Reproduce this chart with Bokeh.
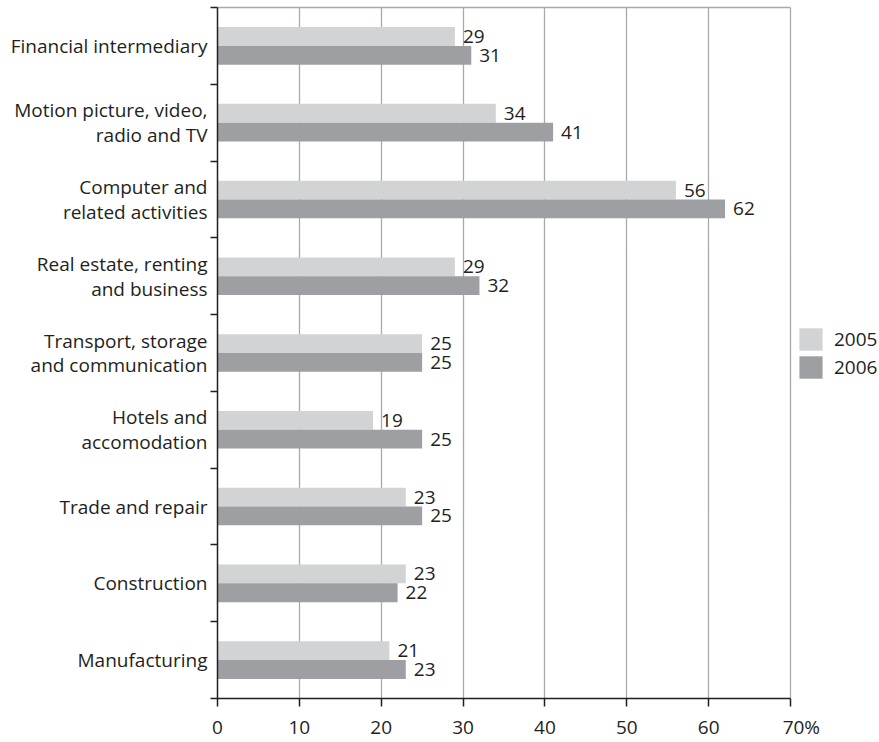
from bokeh.plotting import figure
from bokeh.models import (ColumnDataSource, FixedTicker, Legend, LegendItem,
                          LinearAxis, Range1d)
from bokeh.core.properties import value
from bokeh.embed import file_html
from bokeh.resources import INLINE

# Sectors, listed top to bottom
sectors = [
    "Financial intermediary",
    "Motion picture, video,\nradio and TV",
    "Computer and\nrelated activities",
    "Real estate, renting\nand business",
    "Transport, storage\nand communication",
    "Hotels and\naccomodation",
    "Trade and repair",
    "Construction",
    "Manufacturing",
]
share_2005 = [29, 34, 56, 29, 25, 19, 23, 23, 21]
share_2006 = [31, 41, 62, 32, 25, 25, 25, 22, 23]
years = ["2005", "2006"]
x_ticks = [0, 10, 20, 30, 40, 50, 60, 70]

FONT = "Open Sans"
FS = "19px"
TEXT = "#231f20"
LIGHT = "#d1d3d4"
DARK = "#9d9fa2"
GRID = "#a7a9ac"

n = len(sectors)
x_max = x_ticks[-1]
centers = [n - i - 0.5 for i in range(n)]
bar_h = 0.245
src05 = ColumnDataSource(dict(y=[c + bar_h / 2 for c in centers], v=share_2005,
                              t=[str(v) for v in share_2005]))
src06 = ColumnDataSource(dict(y=[c - bar_h / 2 for c in centers], v=share_2006,
                              t=[str(v) for v in share_2006]))

# The frame runs to the right edge so the legend can sit beside the bars;
# axis and grid bounds keep the drawn chart area at 0-70.
px_per_unit = 573 / x_max
p = figure(width=879, height=742,
           x_range=Range1d(0, (879 - 217) / px_per_unit),
           y_range=Range1d(0, n),
           output_backend="svg", toolbar_location=None,
           min_border_left=217, min_border_right=0,
           min_border_top=7, min_border_bottom=38)
p.background_fill_color = "white"
p.border_fill_color = "white"
p.outline_line_color = None

r05 = p.hbar(y="y", right="v", left=0, height=bar_h, source=src05,
             fill_color=LIGHT, line_color=None)
r06 = p.hbar(y="y", right="v", left=0, height=bar_h, source=src06,
             fill_color=DARK, line_color=None)

for src in (src05, src06):
    p.text(x="v", y="y", text="t", source=src, x_offset=8,
           text_baseline="middle", text_align="left",
           text_font=value(FONT), text_font_size=FS, text_color=TEXT)

# x axis; the last label carries the unit, with the number kept under its tick
xa = p.xaxis[0]
xa.bounds = (0, x_max)
xa.ticker = FixedTicker(ticks=x_ticks)
xa.major_label_overrides = {x_max: f"\u2007\u2007{x_max}%"}
xa.major_tick_out = 8
xa.major_tick_in = 0
xa.minor_tick_out = 0
xa.minor_tick_in = 0
xa.axis_line_color = TEXT
xa.axis_line_width = 1.5
xa.major_tick_line_color = TEXT
xa.major_tick_line_width = 1.5
xa.major_label_standoff = 7
xa.major_label_text_font = FONT
xa.major_label_text_font_size = FS
xa.major_label_text_color = TEXT

# top border of the chart area: a bare axis line over 0-70
top = LinearAxis(ticker=FixedTicker(ticks=[]), bounds=(0, x_max),
                 axis_line_color=GRID, axis_line_width=1.3,
                 major_tick_out=0, major_tick_in=0,
                 minor_tick_out=0, minor_tick_in=0,
                 major_label_standoff=0, major_label_text_font_size="0px")
p.add_layout(top, "above")

# y axis: labels at band centres, ticks at band boundaries
ya = p.yaxis[0]
ya.bounds = (0, n)
ya.ticker = FixedTicker(ticks=centers, minor_ticks=list(range(n + 1)))
ya.major_label_overrides = {c: s for c, s in zip(centers, sectors)}
ya.major_tick_out = 0
ya.major_tick_in = 0
ya.minor_tick_out = 7
ya.minor_tick_in = 0
ya.minor_tick_line_color = TEXT
ya.minor_tick_line_width = 1.5
ya.axis_line_color = TEXT
ya.axis_line_width = 1.5
ya.major_label_standoff = 3
ya.major_label_text_font = FONT
ya.major_label_text_font_size = FS
ya.major_label_text_color = TEXT
ya.major_label_text_line_height = 0.96

# vertical grid (the line at 70 closes the chart on the right)
p.xgrid.grid_line_color = GRID
p.xgrid.grid_line_width = 1.3
p.xgrid.bounds = (0, x_max + 10)
p.ygrid.grid_line_color = None

legend = Legend(
    items=[LegendItem(label=years[0], renderers=[r05]),
           LegendItem(label=years[1], renderers=[r06])],
    location=(579, 317), orientation="vertical",
    glyph_width=29, glyph_height=28, spacing=0, padding=0, margin=0,
    label_standoff=9, label_height=28,
    border_line_color=None, background_fill_alpha=0,
    label_text_font=FONT, label_text_font_size=FS, label_text_color=TEXT,
)
p.add_layout(legend)

open("out.html", "w").write(file_html(p, INLINE))
